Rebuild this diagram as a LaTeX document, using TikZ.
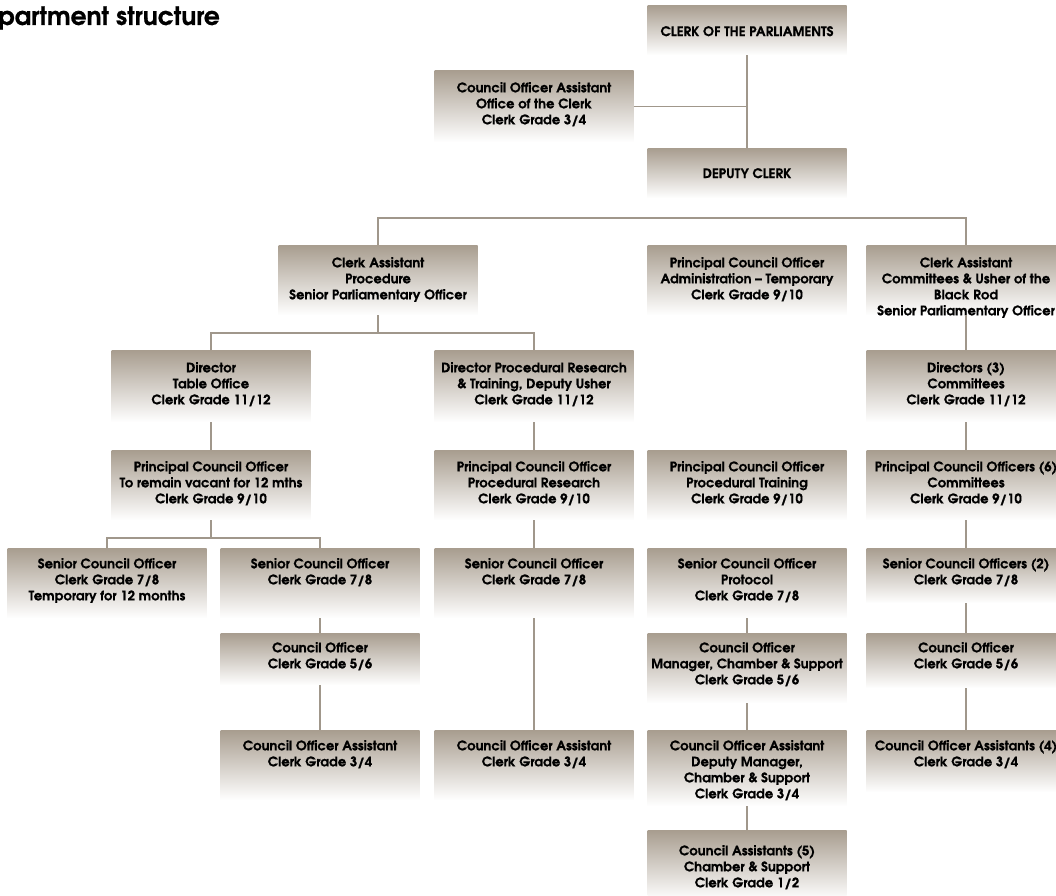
\documentclass[tikz,border=0pt]{standalone}
\usepackage{fontspec}
\setmainfont{TeX Gyre Adventor}[BoldFeatures={FakeBold=0.6}]
\definecolor{boxtan}{RGB}{168,157,143}
\definecolor{linec}{RGB}{160,151,139}
\newcommand\orgbox[6]{%
  \node[box, minimum height=#4pt] (#1) at (#2,#3) {};
  \node[btext] (#1-t) at ([yshift=-#5pt]#1.north) {#6};}
\begin{document}
\begin{tikzpicture}[x=1pt,y=-1pt,
  box/.style={rectangle, draw=none, top color=boxtan, bottom color=white, minimum width=199pt, inner sep=0pt, anchor=north},
  btext/.style={font=\bfseries\fontsize{13.2}{16}\selectfont, align=center, inner sep=0pt, anchor=north},
  conn/.style={draw=linec, line width=1.4pt}]
\useasboundingbox (0,0) rectangle (1056,895);

\node[font=\bfseries\fontsize{25}{28}\selectfont, anchor=west, inner sep=0pt] (title) at (-2,18) {partment structure};

% top
\node[box, minimum height=50pt] (clerk) at (747,5) {};
\node[btext, anchor=center] (clerk-t) at ([yshift=-1pt]clerk) {CLERK OF THE PARLIAMENTS};
\orgbox{coaoff}{534}{70}{72}{12}{Council Officer Assistant\\Office of the Clerk\\Clerk Grade 3/4}
\node[box, minimum height=50pt] (deputy) at (747,148) {};
\node[btext, anchor=center] (deputy-t) at (deputy) {DEPUTY CLERK};

% row 2
\orgbox{cap}{378}{245}{70}{12}{Clerk Assistant\\Procedure\\Senior Parliamentary Officer}
\orgbox{pcoadm}{747}{245}{70}{12}{Principal Council Officer\\Administration -- Temporary\\Clerk Grade 9/10}
\orgbox{cac}{966}{245}{70}{12}{Clerk Assistant\\Committees \& Usher of the\\Black Rod\\Senior Parliamentary Officer}

% row 3
\orgbox{dto}{211}{350}{72}{12}{Director\\Table Office\\Clerk Grade 11/12}
\orgbox{dpr}{534}{350}{72}{12}{Director Procedural Research\\\& Training, Deputy Usher\\Clerk Grade 11/12}
\orgbox{dir3}{966}{350}{72}{12}{Directors (3)\\Committees\\Clerk Grade 11/12}

% row 4
\orgbox{pcoa}{211}{450}{70}{11}{Principal Council Officer\\To remain vacant for 12 mths\\Clerk Grade 9/10}
\orgbox{pcor}{534}{450}{70}{11}{Principal Council Officer\\Procedural Research\\Clerk Grade 9/10}
\orgbox{pcot}{747}{450}{70}{11}{Principal Council Officer\\Procedural Training\\Clerk Grade 9/10}
\orgbox{pco6}{966}{450}{70}{11}{Principal Council Officers (6)\\Committees\\Clerk Grade 9/10}

% row 5
\orgbox{scoa}{107}{548}{70}{10}{Senior Council Officer\\Clerk Grade 7/8\\Temporary for 12 months}
\orgbox{scoc}{320}{548}{70}{10}{Senior Council Officer\\Clerk Grade 7/8}
\orgbox{scoe}{534}{548}{70}{10}{Senior Council Officer\\Clerk Grade 7/8}
\orgbox{scop}{747}{548}{70}{10}{Senior Council Officer\\Protocol\\Clerk Grade 7/8}
\orgbox{sco2}{966}{548}{55}{10}{Senior Council Officers (2)\\Clerk Grade 7/8}

% row 6
\orgbox{coc}{320}{633}{52}{9}{Council Officer\\Clerk Grade 5/6}
\orgbox{com}{747}{633}{70}{9}{Council Officer\\Manager, Chamber \& Support\\Clerk Grade 5/6}
\orgbox{cog}{966}{633}{55}{9}{Council Officer\\Clerk Grade 5/6}

% row 7
\orgbox{coac}{320}{730}{70}{10}{Council Officer Assistant\\Clerk Grade 3/4}
\orgbox{coae}{534}{730}{70}{10}{Council Officer Assistant\\Clerk Grade 3/4}
\orgbox{coad}{747}{730}{76}{10}{Council Officer Assistant\\Deputy Manager,\\Chamber \& Support\\Clerk Grade 3/4}
\orgbox{coa4}{966}{730}{62}{10}{Council Officer Assistants (4)\\Clerk Grade 3/4}

% row 8
\orgbox{ca5}{747}{830}{70}{15}{Council Assistants (5)\\Chamber \& Support\\Clerk Grade 1/2}

% connectors
\draw[conn] (clerk.south) -- (deputy.north);
\draw[conn] (coaoff.east) -- (coaoff.east -| clerk.south);
\coordinate (j0) at (378,218);
\draw[conn] (cap.north) -- (j0) -| (cac.north);
\coordinate (j1) at (378,333);
\draw[conn] (cap.south) -- (j1);
\draw[conn] (dto.north) |- (j1) -| (dpr.north);
\draw[conn] (dto.south) -- (pcoa.north);
\draw[conn] (dpr.south) -- (pcor.north);
\coordinate (j2) at (211,538);
\draw[conn] (pcoa.south) -- (j2);
\draw[conn] (scoa.north) |- (j2) -| (scoc.north);
\draw[conn] (scoc.south) -- (coc.north);
\draw[conn] (coc.south) -- (coac.north);
\draw[conn] (pcor.south) -- (scoe.north);
\draw[conn] (scoe.south) -- (coae.north);
\draw[conn] (scop.south) -- (com.north);
\draw[conn] (com.south) -- (coad.north);
\draw[conn] (coad.south) -- (ca5.north);
\draw[conn] (cac.south) -- (dir3.north);
\draw[conn] (dir3.south) -- (pco6.north);
\draw[conn] (pco6.south) -- (sco2.north);
\draw[conn] (sco2.south) -- (cog.north);
\draw[conn] (cog.south) -- (coa4.north);
\end{tikzpicture}
\end{document}
